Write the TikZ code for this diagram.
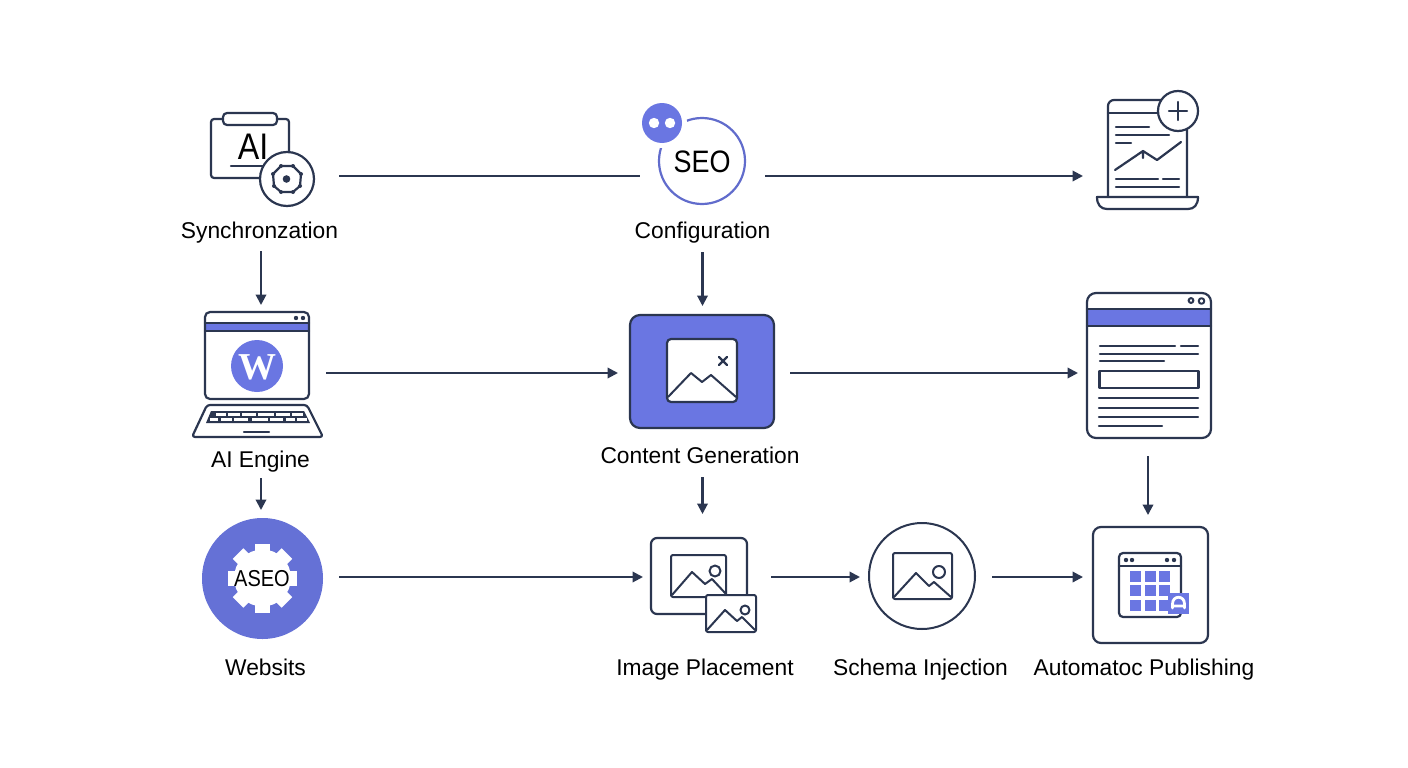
\documentclass[tikz,border=0pt]{standalone}
\usepackage{fontspec}
\setmainfont{Liberation Sans}
\newfontfamily\wfont{Liberation Serif}
\newfontfamily\narrowfont[FakeStretch=0.87]{Liberation Sans}
\usetikzlibrary{arrows.meta}
\definecolor{ink}{HTML}{2B3650}
\definecolor{vio}{HTML}{6A76E2}
\tikzset{
  line/.style={draw=ink,line width=2.2pt,line join=round,line cap=round},
  thin line/.style={draw=ink,line width=2pt,line join=round,line cap=round},
  link/.style={draw=ink,line width=2.1pt},
  flow/.style={link,-{Triangle[length=10.5pt,width=10.5pt]}},
  hub/.style={inner sep=0pt,outer sep=0pt,minimum width=#1},
  cap text/.style={inner sep=0pt,outer sep=0pt,text=black,font=\fontsize{22.8}{26}\selectfont},
}
\begin{document}
\begin{tikzpicture}[x=1pt,y=-1pt]
\useasboundingbox (0,0) rectangle (1408,768);
\fill[white] (0,0) rectangle (1408,768);

% Synchronization icon
\draw[line,rounded corners=3pt] (211,119) rectangle (289,178);
\draw[line,fill=white,rounded corners=4pt] (223,113) rectangle (277,125);
\node[inner sep=0pt,text=black,font=\narrowfont\fontsize{37}{40}\selectfont] (ait) at (253,147) {AI};
\draw[line] (231,166) -- (265,166);
\draw[line,fill=white] (287,179) circle (27);
\draw[line] (281,166) -- (293,166) -- (301,174) -- (300,186) -- (293,192) -- (281,192) -- (274,186) -- (273,174) -- cycle;
\fill[ink] (286.5,179) circle (3.8);
\foreach \p in {(281,166),(293,166),(301,174),(300,186),(293,192),(281,192),(274,186),(273,174)} \fill[ink] \p circle (2);

% SEO icon
\draw[draw=vio!85!ink,line width=2.2pt] (702,161) circle (43);
\fill[white] (662,123) circle (25);
\fill[vio] (662,123) circle (20);
\fill[white] (654,123) circle (5.2) (670,123) circle (5.2);
\node[inner sep=0pt,text=black,font=\narrowfont\fontsize{31}{34}\selectfont] (seot) at (702,162) {SEO};

% Report icon
\draw[line,rounded corners=6pt] (1108,197) -- (1108,100) -- (1187,100) -- (1187,197);
\draw[line] (1108,113) -- (1160,113);
\draw[line,fill=white] (1178,111) circle (20);
\draw[line] (1169,111) -- (1187,111) (1178,102) -- (1178,120);
\draw[line] (1116,127) -- (1149,127) (1116,135) -- (1169,135) (1116,143) -- (1131,143);
\draw[line] (1115,170) -- (1143,151) -- (1157,160) -- (1181,142) (1143,151) -- (1143,158);
\draw[line] (1116,179) -- (1158,179) (1163,179) -- (1179,179) (1116,187) -- (1179,187);
\draw[line] (1097,197) -- (1198,197) .. controls (1198,205) and (1194,209) .. (1188,209) -- (1107,209) .. controls (1101,209) and (1097,205) .. (1097,197) -- cycle;

% WordPress laptop icon
\fill[vio] (205,323) rectangle (309,331);
\draw[line,rounded corners=5pt] (205,399) -- (205,312) -- (309,312) -- (309,399) -- cycle;
\draw[line] (205,323) -- (309,323) (205,331) -- (309,331);
\fill[ink] (296,318) circle (2.2) (303,318) circle (2.2);
\fill[vio] (257,366) circle (26);
\node[inner sep=0pt,text=white,font=\wfont\bfseries\fontsize{38}{42}\selectfont] (wp) at (257,367) {W};
\draw[line,rounded corners=3pt] (207,405) -- (307,405) -- (323,437) -- (192,437) -- cycle;
\fill[ink] (211,411) -- (304,411) -- (310,423) -- (206,423) -- cycle;
\foreach \a/\b in {216/226,228/240,242/256,258/274,276/290,292/303} \fill[white] (\a,412.8) rectangle (\b,415.6);
\foreach \a/\b in {209.5/218,221/232,234/248,252/268,270/283,286/295,297/306.5} \fill[white] (\a,417.8) rectangle (\b,421);
\draw[line] (244,432) -- (269,432);

% Content icon
\draw[line,fill=vio,rounded corners=10pt] (630,315) rectangle (774,428);
\draw[line,fill=white,rounded corners=4pt] (667,339) rectangle (737,402);
\draw[thin line] (668,397) -- (691,373) -- (702,382) -- (711,375) -- (736,397);
\draw[line] (719,357) -- (727,365) (727,357) -- (719,365);

% Page icon
\fill[vio] (1087,309) rectangle (1211,326);
\draw[line,rounded corners=9pt] (1087,293) rectangle (1211,438);
\draw[line] (1087,309) -- (1211,309) (1087,326) -- (1211,326);
\draw[thin line] (1191,300.5) circle (2.4) (1201.5,301) circle (2.8);
\draw[line] (1100,346) -- (1175,346) (1181,346) -- (1198,346) (1100,354) -- (1198,354) (1100,361) -- (1164,361);
\draw[line,line cap=butt] (1099.5,371) rectangle (1198.5,388);
\draw[line] (1099,398) -- (1198,398) (1099,408) -- (1198,408) (1099,417) -- (1198,417) (1099,426) -- (1162,426);

% ASEO icon
\fill[vio!92!ink] (262.5,578.5) circle (60.5);
\fill[white] (262.5,578) circle (28.5);
\foreach \t in {0,45,...,315} \fill[white,rotate around={\t:(262.5,578)}] (255,578) rectangle (270,543.5);
\node[inner sep=0pt,text=black,font=\narrowfont\fontsize{23}{26}\selectfont] (aseot) at (262,579) {ASEO};

% Images icon
\draw[line,rounded corners=6pt] (651,538) rectangle (747,614);
\draw[thin line,rounded corners=2pt] (671,555) rectangle (726,597);
\draw[thin line] (715,571) circle (5.5);
\draw[thin line] (672,595) -- (692,572) -- (705,584) -- (712,579) -- (726,594);
\draw[thin line,fill=white,rounded corners=2pt] (706,595) rectangle (756,632);
\draw[thin line] (745,610) circle (4.5);
\draw[thin line] (707,630) -- (725,610) -- (737,621) -- (742,617) -- (755,630);

% Schema icon
\draw[thin line] (922,576) circle (53);
\draw[thin line,rounded corners=2pt] (893,553) rectangle (952,599);
\draw[thin line] (939,572) circle (6);
\draw[thin line] (894,597) -- (916,573) -- (929,586) -- (934,582) -- (951,597);

% Publishing icon
\draw[line,rounded corners=8pt] (1093,527) rectangle (1208,643);
\draw[line,rounded corners=4pt] (1119,617) -- (1119,553) -- (1181,553) -- (1181,617) -- cycle;
\draw[line] (1119,566) -- (1181,566);
\fill[ink] (1126,560) circle (2.2) (1132,560) circle (2.2) (1167,560) circle (2.2) (1174,560) circle (2.2);
\foreach \x in {1130,1145,1159} \foreach \y in {571,585,600} \fill[vio] (\x,\y) rectangle +(11,11);
\fill[vio] (1168,593) rectangle (1189,614);
\draw[white,line width=2.8pt,line cap=round] (1172.5,608) -- (1172.5,604) .. controls (1172.5,595) and (1184.5,595) .. (1184.5,604) -- (1184.5,608) (1172.5,606) -- (1184.5,606);

% Invisible hubs that carry the connector ends
\node[hub=156pt,minimum height=40pt] (syn) at (261,176) {};
\node[hub=125pt,minimum height=80pt] (seo) at (702.5,176) {};
\node[hub=130pt,minimum height=80pt] (rep) at (1148,176) {};
\node[hub=130pt,minimum height=136pt] (lap) at (261,373) {};
\node[hub=172pt,minimum height=134pt] (con) at (704,373) {};
\node[hub=140pt,minimum height=166pt] (pag) at (1148,373) {};
\node[hub=156pt,minimum height=134pt] (ase) at (261,577) {};
\node[hub=128pt,minimum height=126pt] (img) at (707,577) {};
\node[hub=132pt,minimum height=120pt] (sch) at (926,577) {};
\node[hub=130pt,minimum height=124pt] (pub) at (1148,577) {};

% Labels
\node[cap text,minimum height=36pt] (lsyn) at (259.5,233) {Synchronzation};
\node[cap text,minimum height=38pt] (lcon) at (702.5,233) {Configuration};
\node[cap text,minimum height=32pt] (llap) at (260.5,462) {AI Engine};
\node[cap text,minimum height=44pt] (lgen) at (700,455) {Content Generation};
\node[cap text] (lweb) at (265.5,667) {Websits};
\node[cap text] (limg) at (705,670) {Image Placement};
\node[cap text] (lsch) at (920.5,670) {Schema Injection};
\node[cap text] (lpub) at (1144,670) {Automatoc Publishing};

% Connectors
\draw[link] (syn.east) -- (seo.west);
\draw[flow] (seo.east) -- (rep.west);
\draw[flow] (lap.east) -- (con.west);
\draw[flow] (con.east) -- (pag.west);
\draw[flow] (ase.east) -- (img.west);
\draw[flow] (img.east) -- (sch.west);
\draw[flow] (sch.east) -- (pub.west);
\draw[flow] (lsyn.south -| lap.north) -- (lap.north);
\draw[flow] (lcon.south) -- (lcon.south |- con.north);
\draw[flow] (llap.south -| lap.north) -- (lap.north |- ase.north);
\draw[flow] (lgen.south -| lcon.south) -- (lcon.south |- img.north);
\draw[flow] (pag.south) -- (pub.north);
\end{tikzpicture}
\end{document}
